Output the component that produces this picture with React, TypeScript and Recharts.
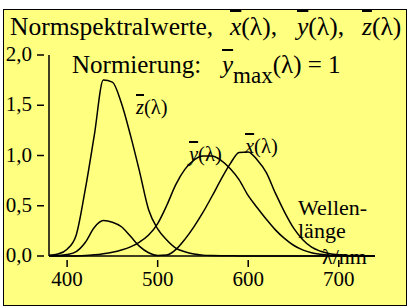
import * as React from "react";
import { LineChart, Line, XAxis, YAxis } from "recharts";

// CIE colour matching functions, 10 nm grid
const WAVELENGTHS = [380, 390, 400, 410, 420, 430, 440, 450, 460, 470, 480, 490, 500, 510, 520, 530, 540, 550, 560,
  570, 580, 590, 600, 610, 620, 630, 640, 650, 660, 670, 680, 690, 700, 710, 720, 730, 740];
const XBAR = [0.0014, 0.0042, 0.0143, 0.0435, 0.1344, 0.2839, 0.352, 0.336, 0.2908, 0.1954, 0.0956, 0.032, 0.0049,
  0.0093, 0.0633, 0.1655, 0.2904, 0.4334, 0.5945, 0.7621, 0.9163, 1.03, 1.035, 0.955, 0.83, 0.625, 0.44, 0.28,
  0.1649, 0.0874, 0.0468, 0.0227, 0.0114, 0.0058, 0.0029, 0.0014, 0.0007];
const YBAR = [0.0, 0.0001, 0.0004, 0.0012, 0.004, 0.0116, 0.023, 0.038, 0.06, 0.091, 0.139, 0.208, 0.323, 0.503,
  0.71, 0.862, 0.954, 0.995, 0.995, 0.952, 0.87, 0.757, 0.6, 0.48, 0.365, 0.26, 0.175, 0.107, 0.061, 0.032, 0.017,
  0.0082, 0.0041, 0.0021, 0.001, 0.0005, 0.0002];
const ZBAR = [0.0065, 0.0201, 0.0679, 0.2074, 0.66, 1.2, 1.75, 1.73, 1.52, 1.2, 0.84, 0.46, 0.27, 0.1582, 0.0782,
  0.0422, 0.0203, 0.0087, 0.0039, 0.0021, 0.0017, 0.0011, 0.0008, 0.0003, 0.0002, 0, 0, 0, 0, 0, 0, 0, 0, 0, 0, 0, 0];

const X_TICKS = [400, 500, 600, 700];
const Y_TICKS = [0, 0.5, 1, 1.5, 2];

const data = WAVELENGTHS.map((w, i) => ({ w, x: XBAR[i], y: YBAR[i], z: ZBAR[i] }));

const FONT = '"Liberation Serif"';
const BG = "#ffff80";

const fmt = (v: number) => v.toFixed(1).replace(".", ",");

function XTick(props: any) {
  const { x, y, payload } = props;
  return (
    <g>
      <line x1={x} x2={x} y1={y - 4} y2={y + 3} stroke="#000" strokeWidth={1.5} />
      <text x={x} y={y + 22} textAnchor="middle" fontFamily={FONT} fontSize={21} fill="#000">
        {payload.value}
      </text>
    </g>
  );
}

function YTick(props: any) {
  const { x, y, payload } = props;
  return (
    <g>
      <line x1={x - 4} x2={x + 3} y1={y} y2={y} stroke="#000" strokeWidth={1.5} />
      <text x={x - 9} y={y + 6} textAnchor="end" fontFamily={FONT} fontSize={21} fill="#000">
        {fmt(payload.value)}
      </text>
    </g>
  );
}

const Bar = ({ c }: { c: string }) => (
  <span style={{ fontStyle: "italic", textDecoration: "overline", textDecorationThickness: 1.5 }}>{c}</span>
);

const label = (left: number, top: number, size: number, content: React.ReactNode) => (
  <div style={{ position: "absolute", left, top, fontSize: size, fontFamily: FONT, lineHeight: 1, whiteSpace: "pre", color: "#000" }}>
    {content}
  </div>
);

export default function App() {
  return (
    <div style={{ position: "absolute", left: 0, top: 0, width: 413, height: 308, background: "#fff" }}>
      <div style={{ position: "absolute", left: 3, top: 9, width: 404, height: 297, background: BG, border: "1.5px solid #000", boxSizing: "border-box" }} />
      <div style={{ position: "absolute", left: 0, top: 0 }}>
        <LineChart width={413} height={308} data={data} margin={{ top: 55, right: 38, bottom: 26, left: 0 }}>
          <XAxis dataKey="w" type="number" domain={[380, 740]} ticks={X_TICKS} height={26}
                 axisLine={{ stroke: "#000", strokeWidth: 1.5 }} tickLine={false} tick={<XTick />} />
          <YAxis type="number" domain={[0, 2]} ticks={Y_TICKS} width={49}
                 axisLine={{ stroke: "#000", strokeWidth: 1.5 }} tickLine={false} tick={<YTick />} />
          <Line dataKey="z" type="monotone" stroke="#000" strokeWidth={1.5} dot={false} isAnimationActive={false} />
          <Line dataKey="x" type="monotone" stroke="#000" strokeWidth={1.5} dot={false} isAnimationActive={false} />
          <Line dataKey="y" type="monotone" stroke="#000" strokeWidth={1.5} dot={false} isAnimationActive={false} />
        </LineChart>
      </div>
      {label(10, 14, 25.5, "Normspektralwerte,")}
      {label(230, 14, 25.5, <><Bar c="x" />(λ),</>)}
      {label(297, 14, 25.5, <><Bar c="y" />(λ),</>)}
      {label(362, 14, 25.5, <><Bar c="z" />(λ)</>)}
      {label(72, 52, 25, "Normierung:")}
      {label(222, 52, 25, <><Bar c="y" /><span style={{ fontSize: 23, verticalAlign: -10 }}>max</span>(λ) = 1</>)}
      {label(136, 97, 20.5, <><Bar c="z" />(λ)</>)}
      {label(189, 144, 20.5, <><Bar c="y" />(λ)</>)}
      {label(245, 136, 20.5, <><Bar c="x" />(λ)</>)}
      {label(298, 197, 22, "Wellen-")}
      {label(298, 220, 22, "länge")}
      {label(322, 246, 22, "λ/nm")}
    </div>
  );
}
